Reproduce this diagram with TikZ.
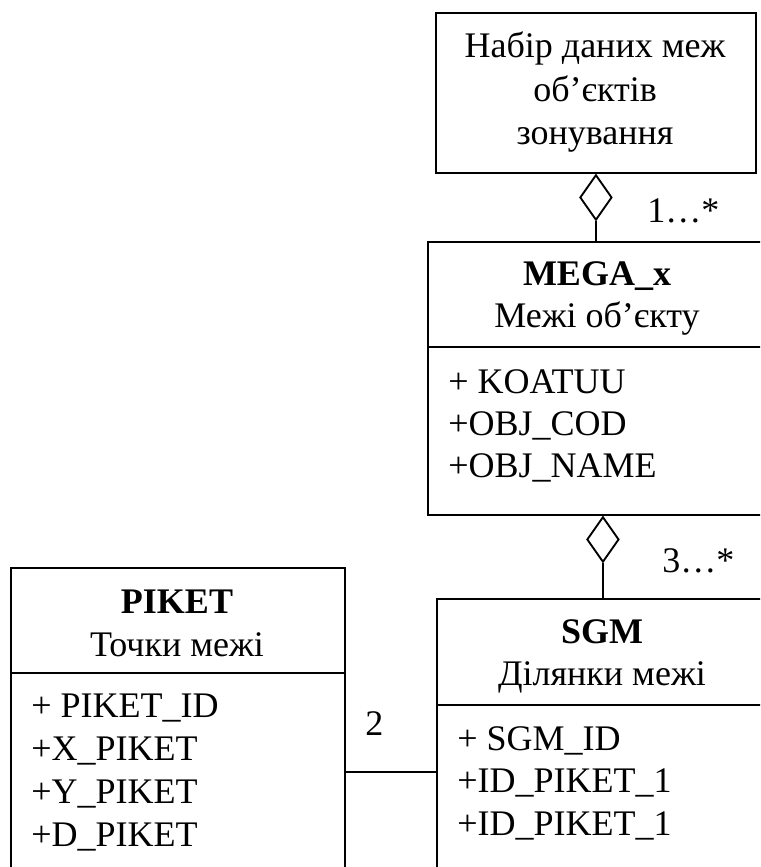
\documentclass[tikz,border=0pt]{standalone}
\usepackage{fontspec}
\setmainfont{Liberation Serif}
\usetikzlibrary{shapes.geometric}
\begin{document}
\begin{tikzpicture}[x=0.75pt,y=-0.75pt,
  box/.style={draw,line width=1.4pt,rectangle,inner sep=0pt,anchor=north west},
  txt/.style={inner sep=0pt,font=\fontsize{27}{31.5}\selectfont},
  attr/.style={txt,anchor=base west},
  ttl/.style={txt,anchor=base},
  agg/.style={draw,line width=1.4pt,diamond,minimum width=24pt,minimum height=34pt,inner sep=0pt,anchor=north},
  link/.style={line width=1.4pt},
  card/.style={txt,anchor=base west}]
\clip (0,0) rectangle (760,867);

% class boxes
\node[box,minimum width=240pt,minimum height=120pt] (set) at (435,12) {};
\node[box,minimum width=255pt,minimum height=204.75pt] (mega) at (427,241) {};
\node[box,minimum width=250.5pt,minimum height=249.75pt] (piket) at (10,567) {};
\node[box,minimum width=249pt,minimum height=226.5pt] (sgm) at (436,598) {};

% compartment dividers
\coordinate (megadiv) at (0,347);
\coordinate (piketdiv) at (0,673);
\coordinate (sgmdiv) at (0,705);
\draw[link] (mega.west |- megadiv) -- (mega.east |- megadiv);
\draw[link] (piket.west |- piketdiv) -- (piket.east |- piketdiv);
\draw[link] (sgm.west |- sgmdiv) -- (sgm.east |- sgmdiv);

% data set box
\node[ttl] (set1) at (595,58) {Набір даних меж};
\node[ttl] (set2) at (595,101) {об’єктів};
\node[ttl] (set3) at (595,144) {зонування};

% MEGA_x
\node[ttl] (megat) at (597,285) {\bfseries MEGA\_x};
\node[ttl] (megas) at (597,327) {Межі об’єкту};
\node[attr] (mega1) at (448,393) {+ KOATUU};
\node[attr] (mega2) at (448,435) {+OBJ\_COD};
\node[attr] (mega3) at (448,477) {+OBJ\_NAME};

% PIKET
\node[ttl] (pikett) at (177,613) {\bfseries PIKET};
\node[ttl] (pikets) at (177,656) {Точки межі};
\node[attr] (piket1) at (31,717) {+ PIKET\_ID};
\node[attr] (piket2) at (31,760) {+X\_PIKET};
\node[attr] (piket3) at (31,803) {+Y\_PIKET};
\node[attr] (piket4) at (31,846) {+D\_PIKET};

% SGM
\node[ttl] (sgmt) at (602,643) {\bfseries SGM};
\node[ttl] (sgms) at (602,685) {Ділянки межі};
\node[attr] (sgm1) at (457,750) {+ SGM\_ID};
\node[attr] (sgm2) at (457,792) {+ID\_PIKET\_1};
\node[attr] (sgm3) at (457,835) {+ID\_PIKET\_1};

% aggregations
\node[agg] (d1) at (set.south) {};
\draw[link] (d1.south) -- (d1.south |- mega.north);
\node[card] (c1) at (647,222) {1…*};

\coordinate (d2top) at (sgm.north |- mega.south);
\node[agg] (d2) at (d2top) {};
\draw[link] (d2.south) -- (sgm.north);
\node[card] (c2) at (662,572) {3…*};

% association PIKET -- SGM
\coordinate (lnk) at (0,772);
\draw[link] (piket.east |- lnk) -- (sgm.west |- lnk);
\node[card] (c3) at (365,735) {2};
\end{tikzpicture}
\end{document}
